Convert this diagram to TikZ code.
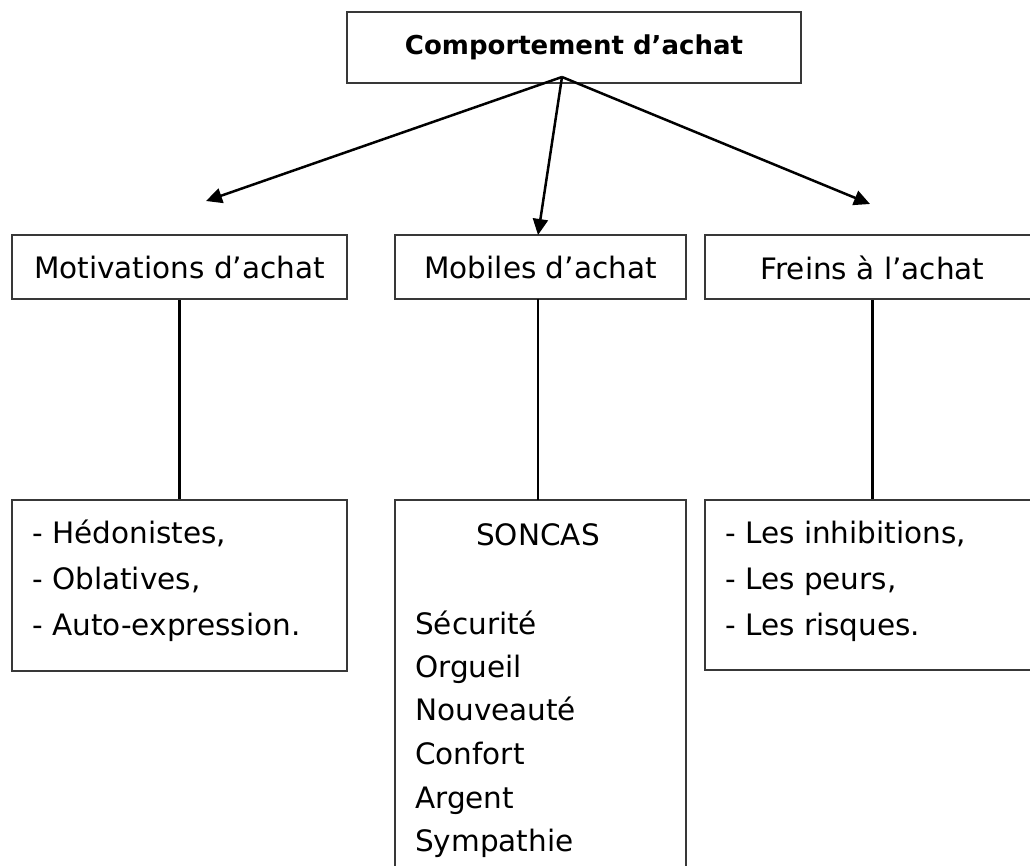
\documentclass[tikz,border=0pt]{standalone}
\usepackage{fontspec}
\setmainfont{DejaVu Sans}
\usetikzlibrary{arrows.meta}
\begin{document}
\begin{tikzpicture}[x=1pt,y=-1pt,
  box/.style={draw=black!78, line width=2.6pt, inner sep=0pt},
  lbl/.style={font=\fontsize{29.5}{34}\selectfont, inner sep=0pt},
  item/.style={lbl, anchor=base west},
  conn/.style={line width=2.5pt, black},
  arr/.style={conn, -{Triangle[length=16pt,width=15pt]}}]
\useasboundingbox (0,0) rectangle (1030,866);
\clip (0,0) rectangle (1030,866);
% boxes
\node[box, minimum width=454pt, minimum height=71pt] (top) at (574,47.5) {};
\node[box, minimum width=335pt, minimum height=64pt] (mot) at (179.5,267) {};
\node[box, minimum width=291pt, minimum height=64pt] (mob) at (540.5,267) {};
\node[box, minimum width=335pt, minimum height=64pt] (fre) at (872.5,267) {};
\node[box, minimum width=335pt, minimum height=171pt] (bmot) at (179.5,585.5) {};
\node[box, minimum width=291pt, minimum height=420pt] (bmob) at (540.5,710) {};
\node[box, minimum width=335pt, minimum height=170pt] (bfre) at (872.5,585) {};
% titles
\node[lbl, font=\fontsize{26}{30}\selectfont\bfseries] (ttop) at (574,47) {Comportement d’achat};
\node[lbl] (tmot) at (179.5,268) {Motivations d’achat};
\node[lbl] (tmob) at (540.5,268) {Mobiles d’achat};
\node[lbl] (tfre) at (872.5,268) {Freins à l’achat};
% lists
\node[item] (m1) at (32,543) {- Hédonistes,};
\node[item] (m2) at (32,589) {- Oblatives,};
\node[item] (m3) at (32,635) {- Auto-expression.};
\node[item] (f1) at (725,543) {- Les inhibitions,};
\node[item] (f2) at (725,589) {- Les peurs,};
\node[item] (f3) at (725,635) {- Les risques.};
\node[lbl, anchor=base] (s0) at (538,545) {SONCAS};
\node[item] (s1) at (415,634) {Sécurité};
\node[item] (s2) at (415,677) {Orgueil};
\node[item] (s3) at (415,720) {Nouveauté};
\node[item] (s4) at (415,764) {Confort};
\node[item] (s5) at (415,808) {Argent};
\node[item] (s6) at (415,851) {Sympathie};
% connectors
\coordinate (o) at (562,77);
\coordinate (tl) at (206,201);
\coordinate (tr) at (870,204);
\coordinate (mobtop) at (538,235);
\coordinate (mobbot) at (538,299);
\coordinate (bmobtop) at (538,500);
\draw[arr] (o) -- (tl);
\draw[arr] (o) -- (mobtop);
\draw[arr] (o) -- (tr);
\draw[conn] (mot.south) -- (bmot.north);
\draw[conn] (mobbot) -- (bmobtop);
\draw[conn] (fre.south) -- (bfre.north);
\end{tikzpicture}
\end{document}
